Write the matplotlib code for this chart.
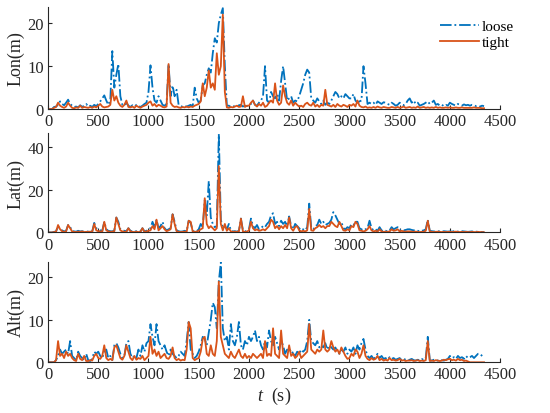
import numpy as np
import matplotlib
matplotlib.use("Agg")
import matplotlib.pyplot as plt

plt.rcParams['font.family'] = ['Liberation Serif', 'DejaVu Serif']
plt.rcParams['mathtext.fontset'] = 'custom'
plt.rcParams['mathtext.it'] = 'Liberation Serif:italic'

# time grid (s), 20 s sampling of the curves
t = np.arange(0, 4360, 20)

lon_loose = [
    0, 0, 0, 0.5, 0.6, 1.0, 1.8, 1.2, 0.9, 1.5,
    2.2, 1.2, 0.8, 0.5, 0.6, 0.4, 0.9, 0.5, 0.8, 1.2,
    0.6, 0.8, 0.5, 1.0, 0.7, 1.2, 1.8, 2.5, 3.2, 2.0,
    1.0, 2.0, 13.5, 5.0, 8.0, 10.5, 3.0, 1.0, 0.8, 1.5,
    0.8, 0.5, 0.9, 0.6, 1.0, 0.7, 0.5, 0.8, 1.2, 1.5,
    4.0, 10.2, 5.0, 2.0, 1.5, 3.0, 2.0, 1.0, 0.8, 1.2,
    10.5, 3.0, 5.5, 3.0, 4.5, 1.0, 0.8, 0.5, 0.7, 0.6,
    0.8, 1.0, 0.6, 5.0, 2.5, 1.5, 2.0, 5.5, 6.0, 8.0,
    9.5, 8.5, 13.0, 16.5, 15.5, 20.0, 22.0, 23.5, 10.0, 0.8,
    0.8, 0.5, 0.7, 0.6, 0.5, 0.9, 1.0, 0.6, 0.8, 0.7,
    1.0, 1.2, 2.0, 1.0, 0.8, 1.5, 2.0, 3.0, 10.0, 2.0,
    1.5, 4.0, 3.0, 2.5, 3.5, 2.0, 6.5, 10.0, 6.0, 2.0,
    2.5, 3.0, 1.5, 2.0, 1.8, 3.0, 4.5, 6.0, 8.0, 9.2,
    8.5, 2.5, 2.0, 1.5, 2.5, 1.8, 1.2, 2.0, 1.0, 1.5,
    1.2, 2.0, 3.0, 4.0, 3.5, 2.5, 3.0, 2.5, 3.5, 3.0,
    2.5, 2.5, 3.5, 2.0, 1.5, 1.8, 2.0, 10.0, 6.0, 1.2,
    1.5, 1.2, 1.5, 1.0, 1.8, 1.5, 1.2, 1.6, 1.5, 1.2,
    1.0, 1.5, 1.2, 0.8, 1.0, 1.5, 1.2, 0.9, 1.2, 2.0,
    2.5, 1.5, 2.0, 1.2, 1.5, 0.8, 1.0, 1.2, 1.5, 1.8,
    1.2, 1.5, 2.0, 1.0, 1.2, 0.8, 1.0, 0.7, 1.0, 0.8,
    1.5, 1.2, 1.0, 0.8, 1.2, 1.0, 0.8, 1.1, 0.9, 1.0,
    0.8, 1.0, 0.9, 0.7, 0.8, 0.6, 0.8, 0.7,
]
lon_tight = [
    0, 0, 0, 0.3, 0.5, 1.5, 0.8, 0.5, 0.3, 0.6,
    1.5, 0.8, 0.3, 0.2, 0.4, 0.3, 0.8, 0.3, 0.5, 0.4,
    0.3, 0.5, 0.3, 0.6, 0.4, 0.8, 1.2, 0.6, 0.4, 0.5,
    0.6, 1.0, 4.5, 2.0, 3.0, 1.5, 0.8, 0.5, 1.0, 2.0,
    0.5, 0.4, 0.6, 0.3, 0.8, 0.5, 0.3, 0.6, 0.8, 1.0,
    1.5, 1.8, 0.8, 1.2, 0.6, 1.0, 0.8, 0.5, 0.4, 0.6,
    10.5, 1.5, 0.8, 0.5, 0.6, 0.4, 0.3, 0.5, 0.4, 0.6,
    0.4, 0.6, 0.5, 0.8, 1.0, 1.2, 1.8, 6.0, 3.0, 5.0,
    9.0, 5.0, 6.0, 4.5, 13.0, 8.0, 10.0, 22.0, 4.0, 0.4,
    0.3, 0.5, 0.4, 0.6, 0.8, 0.5, 0.6, 3.0, 0.5, 0.8,
    0.8, 1.5, 2.0, 1.0, 0.6, 1.2, 0.8, 1.5, 0.5, 0.8,
    1.5, 2.0, 1.5, 6.0, 2.0, 1.0, 1.5, 5.5, 3.0, 1.5,
    1.0, 2.0, 0.8, 1.5, 1.0, 0.6, 0.8, 0.5, 1.2, 1.5,
    1.0, 0.8, 1.5, 0.6, 1.0, 0.5, 1.0, 0.8, 4.5, 1.0,
    0.8, 0.6, 1.0, 0.5, 1.2, 0.8, 0.6, 1.0, 0.8, 0.5,
    1.0, 0.8, 1.2, 0.6, 2.0, 0.8, 0.5, 0.4, 0.6, 0.3,
    0.4, 0.3, 0.5, 0.3, 0.6, 0.4, 0.3, 0.5, 0.4, 0.3,
    0.3, 0.5, 0.4, 0.3, 0.5, 0.3, 0.4, 0.6, 0.3, 0.4,
    0.5, 0.3, 0.4, 0.3, 0.6, 0.3, 0.4, 0.5, 0.3, 0.4,
    0.3, 0.4, 0.3, 0.5, 0.3, 0.4, 0.3, 0.3, 0.4, 0.3,
    0.4, 0.3, 0.3, 0.4, 0.3, 0.3, 0.4, 0.3, 0.3, 0.3,
    0.3, 0.3, 0.4, 0.3, 0.3, 0.3, 0.2, 0.2,
]

lat_loose = [
    0, 0, 0, 0.3, 0.5, 3.0, 1.5, 1.0, 0.5, 0.8,
    3.5, 2.5, 1.0, 0.5, 0.4, 0.8, 0.5, 0.6, 0.3, 0.5,
    0.4, 0.6, 0.5, 4.5, 2.0, 1.5, 1.0, 0.8, 5.0, 1.5,
    0.8, 0.6, 0.5, 1.0, 7.0, 5.0, 1.5, 1.0, 0.8, 0.6,
    2.0, 0.8, 0.5, 0.4, 0.6, 0.3, 0.5, 2.0, 0.5, 0.8,
    1.5, 2.0, 5.0, 2.5, 6.0, 2.0, 3.0, 5.0, 2.0, 1.0,
    1.5, 2.0, 8.5, 5.0, 1.0, 0.6, 0.4, 0.5, 0.8, 0.5,
    5.5, 4.5, 0.8, 0.5, 0.6, 1.5, 4.0, 2.5, 15.0, 8.0,
    24.0, 7.0, 4.0, 2.5, 3.0, 46.0, 6.0, 2.0, 3.0, 1.5,
    4.0, 1.0, 0.5, 0.6, 0.4, 0.8, 6.5, 1.0, 0.5, 0.8,
    1.5, 6.5, 3.0, 2.0, 3.5, 1.5, 2.0, 3.0, 2.5, 4.0,
    5.0, 8.0, 9.0, 4.0, 5.0, 3.0, 5.5, 4.0, 5.0, 3.0,
    7.5, 3.0, 1.5, 4.0, 3.0, 2.0, 1.0, 1.5, 1.0, 2.5,
    13.5, 2.0, 1.5, 3.0, 3.5, 6.0, 4.0, 5.0, 3.5, 4.0,
    4.5, 6.0, 9.5, 8.0, 6.0, 4.0, 5.0, 2.0, 1.5, 2.5,
    2.0, 4.0, 3.5, 5.0, 5.0, 2.0, 1.5, 1.0, 1.5, 2.0,
    5.5, 2.0, 1.0, 1.5, 0.8, 2.5, 1.0, 0.6, 0.8, 0.5,
    1.0, 2.5, 1.5, 2.0, 2.5, 1.0, 1.5, 1.0, 1.2, 1.5,
    1.5, 1.2, 1.0, 1.2, 0.8, 0.6, 0.8, 1.0, 1.5, 6.0,
    0.8, 0.6, 0.5, 0.4, 0.6, 0.5, 0.4, 0.6, 0.5, 0.4,
    0.5, 0.4, 0.6, 0.5, 0.4, 0.5, 0.6, 0.5, 0.4, 0.3,
    0.4, 0.5, 0.3, 0.4, 0.3, 0.3, 0.2, 0.2,
]
lat_tight = [
    0, 0, 0, 0.2, 0.4, 3.5, 1.5, 0.6, 0.3, 0.5,
    3.5, 2.0, 0.5, 0.3, 0.2, 0.4, 0.3, 0.5, 0.2, 0.3,
    0.3, 0.4, 0.3, 4.0, 1.0, 0.6, 0.5, 0.4, 5.0, 1.0,
    0.5, 0.3, 0.4, 0.6, 7.0, 4.0, 1.0, 0.5, 0.4, 0.3,
    2.0, 0.5, 0.3, 0.2, 0.4, 0.2, 0.3, 2.0, 0.3, 0.5,
    0.8, 1.0, 3.0, 1.5, 6.0, 1.0, 2.0, 3.0, 1.5, 0.6,
    1.0, 1.5, 8.5, 4.0, 0.6, 0.3, 0.2, 0.3, 0.4, 0.3,
    5.5, 5.0, 0.5, 0.3, 0.4, 0.8, 1.5, 2.0, 16.0, 4.0,
    2.0, 3.0, 2.0, 1.0, 2.0, 31.0, 4.0, 1.0, 4.0, 0.8,
    2.0, 0.5, 0.3, 0.4, 0.3, 0.5, 6.5, 0.5, 0.3, 0.4,
    1.0, 5.0, 2.0, 1.0, 1.5, 0.8, 1.0, 1.5, 1.0, 2.0,
    3.0, 6.0, 5.0, 2.0, 3.0, 1.5, 3.0, 2.0, 3.5, 2.0,
    7.0, 2.0, 0.8, 2.5, 3.0, 1.0, 0.5, 0.8, 0.5, 1.0,
    11.0, 1.0, 0.8, 2.0, 2.5, 3.5, 2.5, 3.0, 2.0, 3.0,
    3.0, 5.0, 4.0, 3.0, 2.5, 5.0, 3.0, 1.0, 0.8, 1.5,
    1.0, 3.0, 2.5, 5.0, 4.0, 1.0, 0.8, 0.5, 0.8, 1.5,
    3.0, 1.0, 0.5, 0.8, 0.4, 1.5, 0.5, 0.3, 0.4, 0.3,
    0.5, 1.5, 0.8, 1.0, 1.5, 0.5, 0.8, 0.5, 0.4, 0.5,
    0.5, 0.4, 0.3, 0.4, 0.3, 0.2, 0.3, 0.4, 0.8, 5.5,
    0.4, 0.3, 0.2, 0.3, 0.4, 0.3, 0.2, 0.3, 0.2, 0.3,
    0.3, 0.2, 0.3, 0.4, 0.3, 0.2, 0.3, 0.2, 0.3, 0.2,
    0.2, 0.3, 0.2, 0.2, 0.3, 0.2, 0.2, 0.1,
]

alt_loose = [
    0, 0, 0, 0, 0.5, 1.5, 3.0, 2.0, 2.5, 3.0,
    2.0, 5.0, 1.5, 1.0, 0.5, 2.5, 1.5, 1.0, 0.5, 2.0,
    0.5, 0.3, 0.8, 2.5, 2.0, 2.5, 1.5, 1.0, 2.5, 3.0,
    1.0, 1.5, 0.5, 4.0, 4.5, 3.5, 2.0, 1.0, 1.5, 4.5,
    5.0, 2.0, 1.0, 1.5, 1.0, 3.0, 1.5, 4.0, 2.5, 4.5,
    5.0, 9.0, 6.0, 4.0, 9.0, 5.0, 4.0, 3.0, 4.0, 2.5,
    1.5, 3.0, 2.0, 1.5, 1.0, 1.5, 2.5, 2.0, 1.5, 5.0,
    9.5, 3.0, 2.0, 1.0, 1.5, 2.5, 4.0, 6.0, 5.5, 4.0,
    7.0, 10.0, 14.0, 13.0, 8.0, 19.0, 23.5, 8.0, 5.0, 6.0,
    3.0, 9.0, 5.0, 4.0, 6.0, 9.5, 4.0, 3.0, 5.0, 4.0,
    6.0, 5.0, 6.0, 7.5, 5.0, 6.0, 4.0, 3.0, 5.0, 3.5,
    7.5, 5.0, 4.0, 6.0, 4.5, 3.0, 5.0, 4.0, 2.0, 3.0,
    2.5, 3.0, 2.0, 1.5, 2.5, 2.0, 3.0, 2.5, 3.0, 5.0,
    10.0, 5.0, 4.5, 4.0, 5.0, 3.5, 4.0, 3.5, 4.5, 3.0,
    4.0, 3.5, 3.0, 3.5, 2.5, 2.0, 3.0, 2.5, 3.5, 2.0,
    3.0, 2.5, 3.5, 2.0, 4.0, 3.0, 4.5, 5.5, 3.0, 1.5,
    1.0, 1.5, 0.8, 1.2, 2.0, 1.0, 1.5, 0.8, 1.0, 0.6,
    1.2, 0.8, 1.0, 0.6, 0.8, 1.0, 0.5, 0.8, 0.6, 0.5,
    0.6, 0.8, 0.5, 0.4, 0.6, 0.5, 0.8, 0.5, 1.0, 6.0,
    0.5, 0.4, 0.6, 0.5, 0.4, 0.3, 0.5, 0.4, 0.6, 0.8,
    1.5, 1.0, 1.2, 0.8, 1.5, 1.0, 1.2, 0.8, 1.5, 1.0,
    1.2, 1.5, 1.0, 1.5, 2.0, 2.0, 1.5, 1.0,
]
alt_tight = [
    0, 0, 0, 0, 0.5, 5.0, 1.5, 2.0, 1.0, 2.5,
    1.5, 2.0, 1.0, 0.5, 0.3, 2.0, 0.8, 0.5, 1.5, 0.3,
    0.3, 0.5, 0.4, 1.5, 2.0, 1.0, 0.8, 1.5, 4.0, 1.0,
    0.5, 0.8, 0.5, 3.5, 4.0, 2.5, 1.0, 0.6, 1.5, 4.0,
    2.5, 1.0, 0.5, 1.5, 0.6, 1.0, 0.8, 1.5, 0.5, 1.0,
    1.5, 6.0, 2.0, 3.0, 1.5, 2.5, 1.0, 1.5, 2.0, 1.0,
    0.8, 1.5, 3.5, 1.0, 0.5, 0.8, 0.4, 0.6, 0.5, 3.0,
    9.5, 8.0, 1.0, 0.5, 0.8, 1.0, 2.5, 5.5, 6.0, 2.0,
    1.5, 4.0, 2.0, 1.5, 5.0, 19.0, 6.0, 4.0, 2.0, 1.5,
    1.0, 2.5, 1.5, 1.0, 2.0, 3.0, 1.5, 1.0, 2.0, 1.0,
    1.5, 1.0, 2.0, 1.5, 1.0, 1.5, 2.0, 1.0, 5.0, 1.5,
    2.0, 1.5, 8.0, 2.0, 1.5, 1.0, 7.5, 2.0, 1.5, 1.0,
    4.0, 1.5, 2.0, 1.0, 1.5, 2.5, 1.0, 1.5, 2.0, 2.5,
    9.0, 3.0, 2.5, 2.0, 3.0, 2.5, 3.0, 7.5, 3.0, 2.5,
    3.0, 5.0, 3.5, 2.5, 3.0, 2.0, 3.5, 2.5, 1.5, 0.8,
    1.0, 2.0, 1.5, 3.0, 2.5, 1.0, 2.0, 4.0, 1.5, 0.8,
    0.5, 1.0, 0.6, 0.8, 1.5, 0.5, 0.8, 0.4, 0.6, 0.4,
    1.0, 0.5, 0.6, 0.4, 0.5, 0.8, 0.4, 0.5, 0.3, 0.4,
    0.4, 0.5, 0.3, 0.4, 0.5, 0.3, 0.4, 0.3, 0.5, 5.0,
    0.3, 0.4, 0.3, 0.5, 0.4, 0.3, 0.4, 0.6, 0.5, 0.7,
    0.8, 0.5, 0.6, 0.4, 0.8, 0.5, 0.6, 0.3, 0.4, 0.2,
    0, 0, 0, 0, 0, 0, 0, 0,
]

blue = '#0072BD'
orange = '#D95319'
axis_col = '#262626'

panels = [
    ('Lon(m)', lon_loose, lon_tight, 23.8, [0, 10, 20]),
    ('Lat(m)', lat_loose, lat_tight, 46.4, [0, 20, 40]),
    ('Alt(m)', alt_loose, alt_tight, 23.7, [0, 10, 20]),
]
# [left, bottom, width, height] in figure fractions
boxes = [
    [0.0873, 0.734, 0.822, 0.247],
    [0.0873, 0.436, 0.822, 0.240],
    [0.0873, 0.1225, 0.822, 0.243],
]

fig = plt.figure(figsize=(5.5, 4.14), dpi=100)

for (ylab, yl, yt, ymax, yticks), box in zip(panels, boxes):
    ax = fig.add_axes(box)
    ax.plot(t, yl, color=blue, linestyle='-.', linewidth=1.3, label='loose')
    ax.plot(t, yt, color=orange, linestyle='-', linewidth=1.3, label='tight')
    ax.set_xlim(0, 4500)
    ax.set_ylim(0, ymax)
    ax.set_xticks(np.arange(0, 4501, 500))
    ax.set_yticks(yticks)
    ax.set_ylabel(ylab, fontsize=13, color=axis_col, labelpad=2)
    ax.spines['top'].set_visible(False)
    ax.spines['right'].set_visible(False)
    for s in ('left', 'bottom'):
        ax.spines[s].set_color(axis_col)
        ax.spines[s].set_linewidth(0.8)
    ax.tick_params(direction='in', length=3, labelsize=12, colors=axis_col,
                   pad=3)
    if ylab == 'Lon(m)':
        ax.legend(loc='upper right', bbox_to_anchor=(1.031, 0.875),
                  frameon=False, fontsize=11, handlelength=2.55,
                  handletextpad=0.2, borderaxespad=0, borderpad=0,
                  labelspacing=0.15)
    if ylab == 'Alt(m)':
        ax.set_xlabel(r'$t$  (s)', fontsize=13, color=axis_col, labelpad=2)

fig.savefig('out.png', dpi=100)
